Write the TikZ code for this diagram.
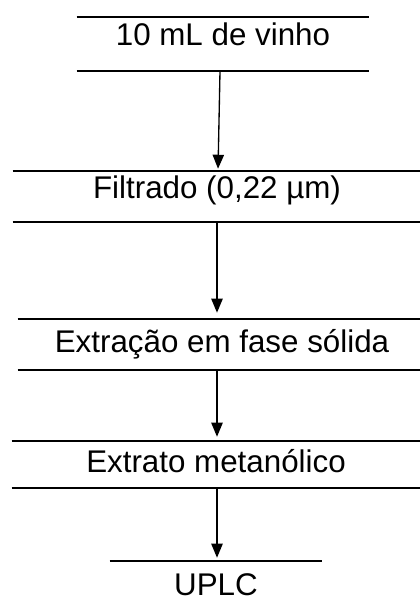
\documentclass[tikz,border=0pt]{standalone}
\usepackage{fontspec}
\setmainfont{Liberation Sans}
\usetikzlibrary{
  arrows.meta,
  positioning
}
\tikzset{
  rule/.style={line width=1.5pt, draw=black},
  stage/.style={
    anchor=base,
    inner xsep=0pt,
    inner ysep=0pt,
    font=\fontsize{23.5pt}{28pt}\selectfont,
    append after command={
      (\tikzlastnode.north west) edge[rule] (\tikzlastnode.north east)
      (\tikzlastnode.south west) edge[rule] (\tikzlastnode.south east)
    }
  },
  laststage/.style={
    anchor=base,
    inner xsep=0pt,
    inner ysep=0pt,
    font=\fontsize{23.5pt}{28pt}\selectfont,
    append after command={
      (\tikzlastnode.north west) edge[rule] (\tikzlastnode.north east)
    }
  },
  arrow/.style={-{Triangle[length=10.5pt, width=8.5pt]}, line width=1pt, draw=black}
}

\begin{document}
\begin{tikzpicture}[x=0.75pt, y=-0.75pt]
  \useasboundingbox (0,0) rectangle (419,599);

  \node[stage, minimum width=219pt, text height=21.75pt, text depth=18.75pt]
    (vinho) at (223,46) {10 mL de vinho};
  \node[stage, minimum width=306pt, text height=20.25pt, text depth=18pt]
    (filtrado) at (217,198) {Filtrado (0,22 µm)};
  \node[stage, minimum width=306pt, text height=24.75pt, text depth=13.5pt]
    (extracao) at (222,352) {Extração em fase sólida};
  \node[stage, minimum width=306pt, text height=23.25pt, text depth=12pt]
    (extrato) at (216,472) {Extrato metanólico};
  \node[laststage, minimum width=159pt, text height=25.5pt, text depth=0pt]
    (uplc) at (216,595) {UPLC};

  \draw[arrow, shorten >=1.5pt] ([xshift=-2.25pt]vinho.south) -- ([xshift=0.75pt]filtrado.north);
  \draw[arrow, shorten >=4.5pt] (filtrado.south) -- (filtrado.south |- extracao.north);
  \draw[arrow, shorten >=3pt] ([xshift=-3.75pt]extracao.south) -- ([xshift=-3.75pt]extracao.south |- extrato.north);
  \draw[arrow, shorten >=2.25pt] ([xshift=0.75pt]extrato.south) -- ([xshift=0.75pt]extrato.south |- uplc.north);
\end{tikzpicture}
\end{document}
